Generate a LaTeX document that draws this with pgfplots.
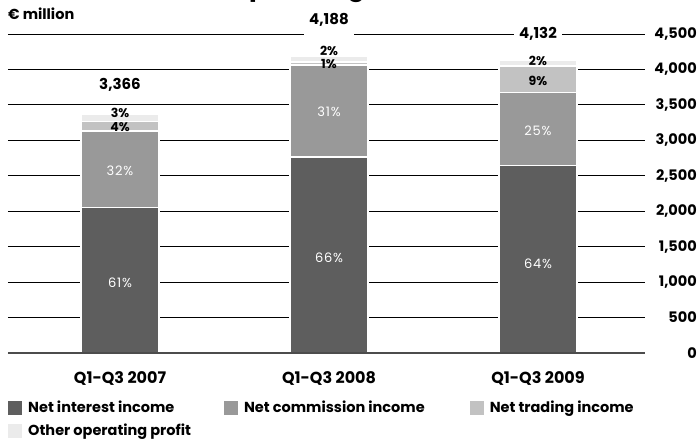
\documentclass[border=0pt]{standalone}
\usepackage{fontspec}
\setmainfont{Poppins}
\usepackage{pgfplots}
\pgfplotsset{compat=1.18}

% segment colours
\definecolor{nii}{HTML}{5E5E5E}
\definecolor{nci}{HTML}{999999}
\definecolor{nti}{HTML}{C2C2C2}
\definecolor{oop}{HTML}{EBEBEB}

% geometry shared by the bar axis and the label overlay
\pgfplotsset{
  frame/.style={
    at={(0,0)}, anchor=south west,
    scale only axis, width=637pt, height=319pt,
    xmin=-0.536, xmax=2.512, ymin=0, ymax=4500,
    clip=false,
  },
}

\begin{document}
\begin{tikzpicture}[x=1pt,y=1pt]
\begin{axis}[
  frame,
  ybar stacked, bar width=0.373,
  axis line style={draw=none},
  major tick length=0pt,
  xtick={0,1,2},
  xticklabels={Q1-Q3 2007,Q1-Q3 2008,Q1-Q3 2009},
  ytick={0,500,...,4500},
  ymajorgrids,
  grid style={line width=0.9pt, black},
  yticklabel pos=right,
  /pgf/number format/.cd, 1000 sep={,}, assume math mode=true,
  /pgfplots/.cd,
  yticklabel style={anchor=east, xshift=52pt, inner sep=0pt,
    font=\fontsize{14.5}{17}\selectfont\bfseries},
  xticklabel style={yshift=-15pt, font=\fontsize{16}{19}\selectfont\bfseries},
  title={Operating income},
  title style={at={(rel axis cs:0.537,1)}, anchor=base, yshift=32pt,
    font=\fontsize{26}{30}\selectfont\bfseries},
  legend columns=3,
  legend cell align=left,
  legend image code/.code={\fill[#1,draw=none] (0pt,-7pt) rectangle (14pt,7pt);},
  legend style={at={(rel axis cs:0,0)}, anchor=north west, yshift=-46pt,
    draw=none, fill=none, inner sep=0pt, row sep=6pt,
    font=\fontsize{14.5}{17}\selectfont\bfseries,
    /tikz/every odd column/.append style={column sep=4pt},
    /tikz/column 2/.style={column sep=31pt},
    /tikz/column 4/.style={column sep=43pt}},
  every axis plot/.append style={draw=white, line width=1.6pt},
]
% Q1-Q3 2007, 2008, 2009 (EUR million)
\addplot[fill=nii] coordinates {(0,2053) (1,2764) (2,2644)};
\addplot[fill=nci] coordinates {(0,1077) (1,1298) (2,1033)};
\addplot[fill=nti] coordinates {(0,135) (1,42) (2,372)};
\addplot[fill=oop] coordinates {(0,101) (1,84) (2,83)};
\legend{Net interest income,Net commission income,Net trading income,Other operating profit}
\end{axis}

% overlay: baseline, unit, shares and totals on top of the bars
\begin{axis}[frame, hide axis]
\draw[line width=1.8pt, black!70] (axis cs:-0.536,0) -- (axis cs:2.512,0);

\node[anchor=base west, inner sep=0pt, font=\fontsize{14.5}{17}\selectfont\bfseries]
  at (rel axis cs:0,1) [yshift=14pt] {€ million};

\tikzset{pw/.style={text=white, font=\fontsize{13}{15}\selectfont\addfontfeature{LetterSpace=6}},
         pb/.style={text=black, inner sep=0pt, font=\fontsize{12.5}{14}\selectfont\bfseries},
         tot/.style={fill=white, inner xsep=5pt, inner ysep=4pt, font=\fontsize{15}{18}\selectfont\bfseries}}
\node[pw] at (axis cs:0,990) {61\%};
\node[pw] at (axis cs:0,2567) {32\%};
\node[pb] at (axis cs:0,3188) {4\%};
\node[pb] at (axis cs:0,3385) {3\%};
\node[pw] at (axis cs:1,1340) {66\%};
\node[pw] at (axis cs:1,3400) {31\%};
\node[pb] at (axis cs:1,4077) {1\%};
\node[pb] at (axis cs:1,4260) {2\%};
\node[pw] at (axis cs:2,1255) {64\%};
\node[pw] at (axis cs:2,3131) {25\%};
\node[pb] at (axis cs:2,3837) {9\%};
\node[pb] at (axis cs:2,4119) {2\%};

\node[tot] at (axis cs:0,3780) {3,366};
\node[tot, inner ysep=10pt] at (axis cs:1,4697) {4,188};
\node[tot] at (axis cs:2,4500) {4,132};
\end{axis}
\pgfresetboundingbox
\useasboundingbox (-8,-90) rectangle (692,353);
\end{tikzpicture}
\end{document}
